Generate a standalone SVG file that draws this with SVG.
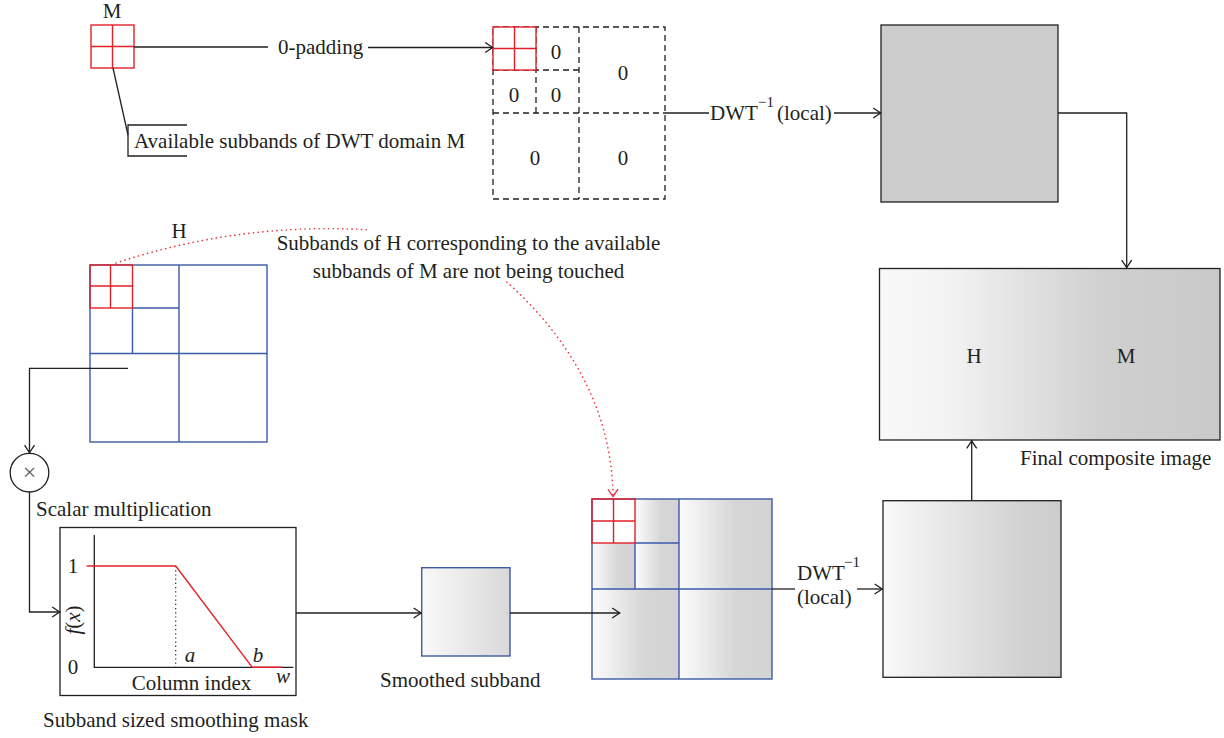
<svg xmlns="http://www.w3.org/2000/svg" width="1224" height="738" viewBox="0 0 1224 738">
<style>
text{font-family:"Liberation Serif","Times New Roman",serif;font-size:21px;fill:#231f20}
.it{font-style:italic}
.mid{text-anchor:middle}
.ln{fill:none;stroke:#231f20;stroke-width:1.3}
.blue{fill:none;stroke:#3d5aa6;stroke-width:1.4}
.red{fill:none;stroke:#e32028;stroke-width:1.4}
.dash{fill:none;stroke:#231f20;stroke-width:1.3;stroke-dasharray:6,4}
.dot{fill:none;stroke:#e8303a;stroke-width:1.6;stroke-dasharray:0.1,4.6;stroke-linecap:round}
</style>
<defs>
<marker id="arr" viewBox="0 0 10 12" refX="9.3" refY="6" markerWidth="10" markerHeight="12" orient="auto" markerUnits="userSpaceOnUse">
<path d="M1.5,1 L9,6 L1.5,11" fill="none" stroke="#231f20" stroke-width="1.3"/>
</marker>
<marker id="arrR" viewBox="0 0 10 12" refX="9.3" refY="6" markerWidth="10" markerHeight="12" orient="auto" markerUnits="userSpaceOnUse">
<path d="M1.5,1 L9,6 L1.5,11" fill="none" stroke="#e8303a" stroke-width="1.3"/>
</marker>
<linearGradient id="gSub" x1="0" y1="0" x2="1" y2="0">
<stop offset="0" stop-color="#fbfbfb"/><stop offset="0.15" stop-color="#f3f3f3"/><stop offset="0.6" stop-color="#d6d6d6"/><stop offset="1" stop-color="#d3d3d3"/>
</linearGradient>
<linearGradient id="gSm" x1="0" y1="0" x2="1" y2="0">
<stop offset="0" stop-color="#f8f8f8"/><stop offset="0.3" stop-color="#f0f0f0"/><stop offset="1" stop-color="#d8d8d8"/>
</linearGradient>
<linearGradient id="gComp" x1="0" y1="0" x2="1" y2="0">
<stop offset="0" stop-color="#f8f8f8"/><stop offset="0.2" stop-color="#f3f3f3"/><stop offset="0.65" stop-color="#d0d0d0"/><stop offset="1" stop-color="#c9c9c9"/>
</linearGradient>
<linearGradient id="gBR" x1="0" y1="0" x2="1" y2="0">
<stop offset="0" stop-color="#fafafa"/><stop offset="0.15" stop-color="#f1f1f1"/><stop offset="0.8" stop-color="#d1d1d1"/><stop offset="1" stop-color="#cdcdcd"/>
</linearGradient>
</defs>
<rect width="1224" height="738" fill="#ffffff"/>

<g id="node-M">
<text class="mid" x="112" y="18">M</text>
<rect class="red" x="91" y="25" width="43" height="43"/>
<path class="red" d="M112.5,25 V68 M91,46.5 H134"/>
</g>

<g id="node-padded">
<rect class="dash" x="493" y="27" width="172" height="172"/>
<path class="dash" d="M579,27 V199 M493,113 H665 M536,27 V113 M493,70 H579"/>
<rect x="493" y="27" width="43" height="43" fill="#ffffff" stroke="#e32028" stroke-width="1.4"/>
<path class="red" d="M514.5,27 V70 M493,48.5 H536"/>
<text class="mid" x="556" y="59">0</text>
<text class="mid" x="514" y="102">0</text>
<text class="mid" x="556" y="102">0</text>
<text class="mid" x="623" y="80">0</text>
<text class="mid" x="535" y="165">0</text>
<text class="mid" x="623" y="165">0</text>
</g>

<g id="node-local-M">
<rect x="881" y="25" width="177" height="177" fill="#cccccc" stroke="#231f20" stroke-width="1.3"/>
</g>

<g id="node-composite">
<rect x="879.5" y="268.5" width="340.5" height="171.5" fill="url(#gComp)" stroke="#231f20" stroke-width="1.3"/>
<text class="mid" x="974" y="363">H</text>
<text class="mid" x="1126" y="363">M</text>
<text x="1020" y="465">Final composite image</text>
</g>

<g id="node-H">
<text class="mid" x="179" y="238">H</text>
<rect class="blue" x="90" y="265" width="177" height="177"/>
<path class="blue" d="M179,265 V442 M90,353.5 H267 M132.5,308 V353.5 M132.5,308 H179"/>
<rect class="red" x="90" y="265" width="42.5" height="43"/>
<path class="red" d="M110.5,265 V308 M90,286 H132.5"/>
</g>

<g id="node-mult">
<circle cx="29.5" cy="472.7" r="19.3" fill="#ffffff" stroke="#231f20" stroke-width="1.3"/>
<text class="mid" x="29.5" y="480" style="fill:#555555;font-size:24px">×</text>
<text x="36" y="516">Scalar multiplication</text>
</g>

<g id="node-mask">
<rect x="60" y="527.5" width="236" height="168" fill="#ffffff" stroke="#231f20" stroke-width="1.3"/>
<path class="ln" d="M94.3,535 V667.3 H293.3"/>
<path d="M175.7,566 V667" fill="none" stroke="#231f20" stroke-width="1.2" stroke-dasharray="1.2,3"/>
<path d="M86.7,566 H175.7 L252.3,667.3 H281.7" fill="none" stroke="#e32028" stroke-width="1.4"/>
<text class="mid" x="73" y="573">1</text>
<text class="mid" x="73" y="674">0</text>
<text class="mid" transform="translate(80,620) rotate(-90)"><tspan class="it">f</tspan>(<tspan class="it">x</tspan>)</text>
<text class="it mid" x="190" y="662">a</text>
<text class="it mid" x="258" y="662">b</text>
<text class="it mid" x="283" y="683">w</text>
<text x="131.7" y="690">Column index</text>
<text x="43" y="727">Subband sized smoothing mask</text>
</g>

<g id="node-smoothed">
<rect x="421.7" y="567.7" width="88.3" height="88.3" fill="url(#gSm)" stroke="#3d5aa6" stroke-width="1.4"/>
<text x="380" y="687">Smoothed subband</text>
</g>

<g id="node-H-smoothed">
<rect x="635" y="499" width="44" height="44" fill="url(#gSub)"/>
<rect x="592" y="543" width="43" height="46" fill="url(#gSub)"/>
<rect x="635" y="543" width="44" height="46" fill="url(#gSub)"/>
<rect x="679" y="499" width="93" height="90" fill="url(#gSub)"/>
<rect x="592" y="589" width="87" height="90" fill="url(#gSub)"/>
<rect x="679" y="589" width="93" height="90" fill="url(#gSub)"/>
<rect x="592" y="499" width="43" height="44" fill="#ffffff"/>
<rect class="blue" x="592" y="499" width="180" height="180"/>
<path class="blue" d="M679,499 V679 M592,589 H772 M635,543 V589 M635,543 H679"/>
<rect class="red" x="592" y="499" width="43" height="44"/>
<path class="red" d="M613.5,499 V543 M592,521 H635"/>
</g>

<g id="node-local-H">
<rect x="883" y="500.7" width="178" height="176.6" fill="url(#gBR)" stroke="#231f20" stroke-width="1.3"/>
</g>

<g id="notes">
<text class="mid" x="468.5" y="250">Subbands of H corresponding to the available</text>
<text class="mid" x="468.5" y="278">subbands of M are not being touched</text>
<path class="ln" d="M113,68 L128,135"/>
<path class="ln" d="M187,125 H128 V156 H187"/>
<text x="134" y="148">Available subbands of DWT domain M</text>
</g>

<g id="connectors">
<path class="ln" d="M134,47 H268"/>
<text x="278" y="54">0-padding</text>
<path class="ln" d="M368,47.5 H493" marker-end="url(#arr)"/>
<path class="ln" d="M665,113 H709"/>
<text x="710" y="120">DWT<tspan x="758" y="107" style="font-size:15px">−1</tspan><tspan x="777" y="120">(local)</tspan></text>
<path class="ln" d="M834,113 H881" marker-end="url(#arr)"/>
<path class="ln" d="M1058,113 H1126.7 V268" marker-end="url(#arr)"/>
<path class="ln" d="M128,368.3 H29.5 V453" marker-end="url(#arr)"/>
<path class="ln" d="M29.5,492 V612 H60" marker-end="url(#arr)"/>
<path class="ln" d="M296,613 H421.5" marker-end="url(#arr)"/>
<path class="ln" d="M510,613 H620" marker-end="url(#arr)"/>
<path class="ln" d="M772,589 H795"/>
<text x="797" y="580">DWT<tspan x="844" y="567" style="font-size:15px">−1</tspan></text>
<text x="797" y="604">(local)</text>
<path class="ln" d="M857,589 H882.5" marker-end="url(#arr)"/>
<path class="ln" d="M971.7,500.7 V440.5" marker-end="url(#arr)"/>
<path class="dot" d="M116,263 Q240,222 370,230"/>
<path class="dot" d="M507,282 C560,330 612,400 613,497" marker-end="url(#arrR)"/>
</g>
</svg>
